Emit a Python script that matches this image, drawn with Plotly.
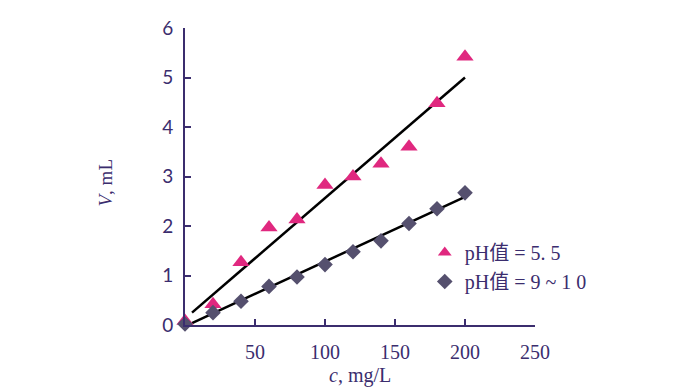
import plotly.graph_objects as go

conc = [0, 20, 40, 60, 80, 100, 120, 140, 160, 180, 200]
v_ph55 = [0.08, 0.42, 1.27, 1.97, 2.13, 2.83, 3.0, 3.26, 3.6, 4.48, 5.42]
v_ph910 = [0.02, 0.25, 0.48, 0.78, 0.97, 1.22, 1.48, 1.7, 2.05, 2.35, 2.67]
fit_x = [5, 200]
fit_ph55 = [0.25, 5.0]
fit_ph910 = [0.04, 2.59]
name_ph55 = "pH值 = 5. 5"
name_ph910 = "pH值 = 9 ~ 1 0"
x_ticks = [50, 100, 150, 200, 250]
y_ticks = [0, 1, 2, 3, 4, 5, 6]
x_title = "<i>c</i>, mg/L"
y_title = "<i>V</i>, mL"

axis_col = "#3b2d6e"
pink = "#e0287f"
grey = "#55506e"
serif = "Liberation Serif, Times New Roman, serif"

fig = go.Figure()
fig.add_trace(go.Scatter(x=fit_x, y=fit_ph55, mode="lines",
                         line=dict(color="black", width=2.5), showlegend=False))
fig.add_trace(go.Scatter(x=fit_x, y=fit_ph910, mode="lines",
                         line=dict(color="black", width=2.5), showlegend=False))
fig.add_trace(go.Scatter(x=conc, y=v_ph55, mode="markers", name=name_ph55,
                         marker=dict(symbol="triangle-up", size=15, color=pink),
                         cliponaxis=False))
fig.add_trace(go.Scatter(x=conc, y=v_ph910, mode="markers", name=name_ph910,
                         marker=dict(symbol="diamond", size=12, color=grey),
                         cliponaxis=False))

fig.update_layout(
    width=690, height=391,
    margin=dict(l=177, r=163, t=20, b=74, autoexpand=False),
    paper_bgcolor="white", plot_bgcolor="white",
    showlegend=True,
    legend=dict(x=0.685, y=0.31, xanchor="left", yanchor="top",
                font=dict(family=serif + ", Noto Sans CJK SC", size=20, color=axis_col),
                bgcolor="rgba(0,0,0,0)", tracegroupgap=9, itemsizing="constant"),
    xaxis=dict(range=[0, 250], tickvals=x_ticks, ticks="inside", ticklen=6,
               tickwidth=2, tickcolor=axis_col, showline=True, linecolor=axis_col,
               linewidth=2, showgrid=False, zeroline=False, automargin=False,
               tickfont=dict(family=serif, size=20, color=axis_col),
               ticklabelstandoff=8),
    yaxis=dict(range=[0, 6], tickvals=y_ticks, ticks="inside", ticklen=6,
               tickwidth=2, tickcolor=axis_col, showline=True, linecolor=axis_col,
               linewidth=2, showgrid=False, zeroline=False, automargin=False,
               tickfont=dict(family="Lato", size=19, color=axis_col),
               ticklabelstandoff=6),
    annotations=[
        dict(text=x_title, xref="paper", yref="paper", x=0.5, y=0,
             xanchor="center", yanchor="top", yshift=-37, showarrow=False,
             font=dict(family=serif, size=20, color=axis_col)),
        dict(text=y_title, xref="paper", yref="paper", x=0, y=0.5,
             xanchor="center", yanchor="middle", xshift=-80, yshift=-6,
             textangle=-90, showarrow=False,
             font=dict(family=serif, size=19, color=axis_col)),
    ],
)
fig.write_html("out.html")
